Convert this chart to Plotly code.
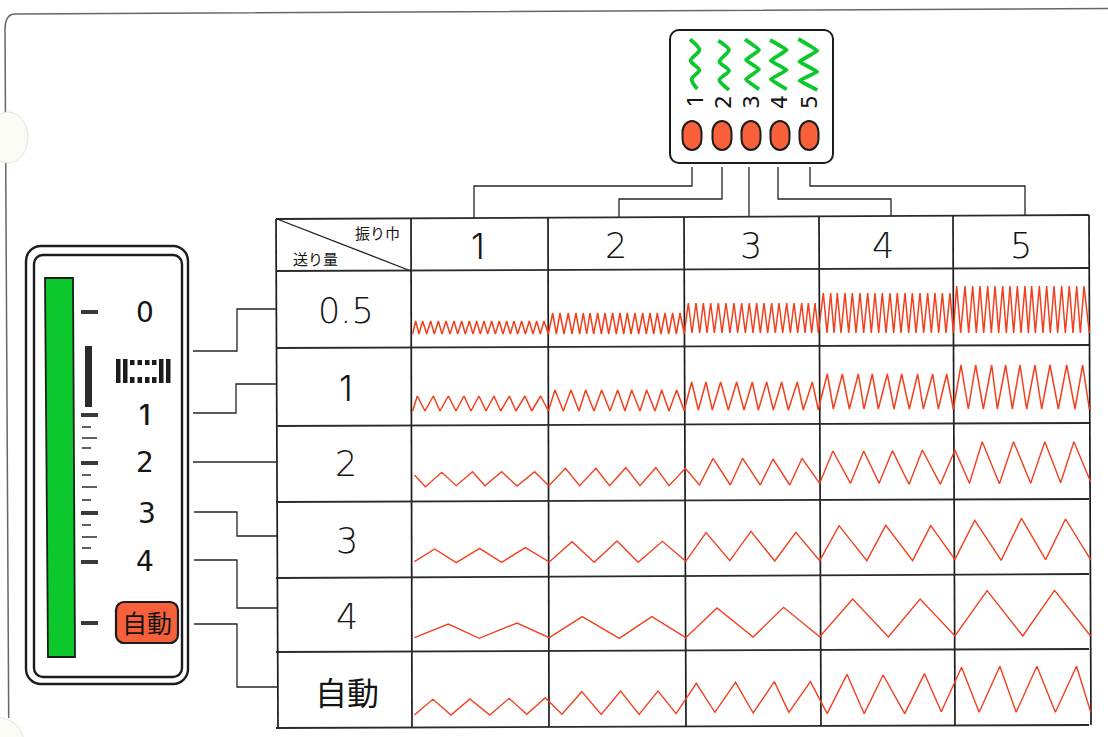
import plotly.graph_objects as go

# ---------- text ----------
width_labels = ["1", "2", "3", "4", "5"]
feed_labels = ["0.5", "1", "2", "3", "4", "自動"]
dial_labels = ["0", "1", "2", "3", "4"]
width_title = "振り巾"
feed_title = "送り量"
auto_label = "自動"

# ---------- table grid (pixels of the drawing) ----------
grid_x_top = [276, 411, 548, 684, 819, 953, 1089]
grid_x_bottom = [278, 412, 549, 686, 821, 955, 1091]
grid_y_left = [219, 271, 348, 426, 502, 578, 652, 728]
grid_y_right = [215, 268, 345, 423, 499, 574, 649, 725]

# ---------- stitch zigzags ----------
cell_origin = [270, 270, 680, 680, 680]
row05_x = [
    [428,437,447,458,470,482,493,505,516,528,540,552,563,575,586,598,609,620,631,642,653,665,676,688,699,710,721,732,743,755,766,778,789,800,811,822,835],
    [835,848,859,870,882,895,906,918,929,940,950,960,971,983,994,1005,1016,1028,1039,1050,1061,1072,1083,1095,1106,1118,1129,1140,1151,1162,1173,1185,1196,1208,1219,1230,1243],
    [13,25,36,48,59,70,81,92,103,115,126,138,150,162,173,185,196,208,219,230,241,252,263,275,286,297,308,320,331,342,353,365,375,385,395,405,415],
    [415,430,441,452,462,472,483,495,506,517,528,540,551,563,574,585,596,607,618,630,641,652,663,675,686,697,708,720,731,743,754,765,776,787,798,810,820],
    [820,830,842,855,866,878,889,900,911,923,934,945,956,968,979,990,1001,1012,1023,1035,1045,1055,1066,1078,1089,1100,1111,1122,1133,1145,1156,1168,1179,1190,1201,1212,1228],
]
row05_low = [334, 334, 333, 333, 333]
row05_high = [321, 313, 303, 293, 286]

row1_x = [
    [428,442,465,490,510,535,558,582,603,627,648,672,692,718,738,765,785,812,835],
    [835,855,880,903,927,947,972,995,1020,1043,1065,1085,1110,1130,1155,1175,1197,1220,1243],
    [13,35,55,78,97,122,145,170,192,217,235,260,280,305,325,352,370,397,415],
    [415,442,460,487,508,535,552,577,595,622,642,665,688,713,730,758,775,800,820],
    [820,843,865,887,910,935,952,977,997,1020,1040,1065,1085,1110,1135,1160,1185,1208,1228],
]
row1_low = [411, 411, 410, 409, 409]
row1_high = [396, 390, 382, 374, 365]

row2_x = [10,35,72,105,142,170,208,243,283,315,353,385,422,453,490,522,558,588,625,657,688,727,755,795,824,862,890,930,960,1000,1030,1065,1095,1133,1163,1204,1237,1270,1299,1338,1370,1409,1441,1477,1507,1545]
row2_y = [150,185,142,182,140,182,140,183,140,182,130,182,130,182,128,182,128,182,130,180,100,180,100,180,102,180,100,175,78,175,78,175,77,178,75,178,75,175,50,176,50,175,50,173,50,170]
row3_x = [10,56,105,158,208,262,316,368,418,470,518,573,626,672,726,774,828,876,930,974,1037,1080,1141,1182,1237,1282,1342,1388,1443,1488,1545]
row3_y = [410,372,413,370,412,368,411,350,412,348,412,349,409,323,407,319,408,322,407,302,407,301,407,302,403,286,406,280,404,282,404]
row4_x = [10,87,157,243,316,391,475,549,626,697,779,848,930,1005,1086,1158,1237,1310,1391,1463,1545]
row4_y = [638,597,640,594,638,575,640,575,638,549,636,547,635,522,636,522,633,497,633,496,633]
rowa_x = [10,52,93,136,181,225,265,307,345,390,434,478,520,563,604,650,692,739,779,827,860,909,947,992,1031,1074,1123,1168,1206,1252,1292,1339,1376,1423,1465,1513,1545]
rowa_y = [870,823,870,822,870,820,868,818,868,800,868,798,868,798,866,775,862,772,864,770,862,770,866,748,866,750,866,746,860,727,862,724,862,724,862,724,860]

# ---------- green samples on the width panel ----------
green_x = [
    [90,118,92,118,95,112],
    [175,207,178,207,178,207],
    [255,297,258,297,258,297],
    [330,380,332,380,332,380],
    [415,472,418,472,418,472],
]
green_y = [
    [58,90,122,150,178,207],
    [62,90,125,152,180,210],
    [58,90,120,148,178,208],
    [60,90,122,150,178,208],
    [57,92,125,155,182,210],
]
green_smoothing = [0.9, 0.7, 0.35, 0.25, 0.15]

# ---------- panel details ----------
oval_x = [692, 722, 751, 780, 809]
digit_x = [695, 723, 751, 779, 809]
dial_y = [312, 415, 462, 513, 561]
dial_x = [145, 145, 145, 147, 145]
tick_heavy_y = [312, 415, 463, 513, 562, 623]
tick_short_y = [427, 448, 475, 500, 525, 548]
tick_long_y = [438, 487, 537]
icon_bars = [116, 123, 159, 166]
icon_dots = [130, 137.5, 145, 152]

# ---------- connectors ----------
top_links = [
    [[692, 692, 474, 474], [167, 186, 186, 218]],
    [[722, 722, 619, 619], [167, 199, 199, 217]],
    [[749, 749], [167, 216]],
    [[778, 778, 891, 891], [167, 199, 199, 216]],
    [[810, 810, 1025, 1025], [167, 186, 186, 215]],
]
left_links = [
    [[193, 237, 237, 276], [351, 351, 309, 309]],
    [[193, 236, 236, 276], [413, 413, 384, 384]],
    [[193, 277], [462, 462]],
    [[194, 237, 237, 277], [512, 512, 536, 536]],
    [[194, 237, 237, 277], [560, 560, 608, 608]],
    [[194, 237, 237, 277], [624, 624, 687, 687]],
]

RED = "#f2401f"
GREEN = "#0cc82c"
ORANGE = "#f8603c"
INK = "#1c1c1c"
DIGIT_FONT = "DejaVu Sans"
LIGHT_FONT = "DejaVu Sans Light"
ONE_FONT = "Inter"
CJK_FONT = "Noto Sans CJK JP"


def rrect(x0, y0, x1, y1, rx, ry=None):
    ry = rx if ry is None else ry
    kx, ky = rx * 0.45, ry * 0.45
    return (f"M{x0+rx},{y0} L{x1-rx},{y0} C{x1-kx},{y0} {x1},{y0+ky} {x1},{y0+ry} L{x1},{y1-ry} "
            f"C{x1},{y1-ky} {x1-kx},{y1} {x1-rx},{y1} L{x0+rx},{y1} C{x0+kx},{y1} {x0},{y1-ky} {x0},{y1-ry} "
            f"L{x0},{y0+ry} C{x0},{y0+ky} {x0+kx},{y0} {x0+rx},{y0} Z")


def line(xs, ys, color=INK, w=1.5, **kw):
    return go.Scatter(x=xs, y=ys, mode="lines", line=dict(color=color, width=w, **kw),
                      hoverinfo="skip", showlegend=False)


fig = go.Figure()

# table grid
for a, b in zip(grid_x_top, grid_x_bottom):
    fig.add_trace(line([a, b], [grid_y_left[0] - (a - 276) * 4 / 813, grid_y_left[-1] - (b - 278) * 3 / 813], INK, 1.7))
for a, b in zip(grid_y_left, grid_y_right):
    fig.add_trace(line([276, 1089], [a, b], "#2a2a2a", 1.8))
fig.add_trace(line([277, 411], [219, 271], INK, 1.3))

# connectors
for xs, ys in top_links + left_links:
    fig.add_trace(line(xs, ys, "#262626", 1.3))

# stitches: the two dense rows
for xs_row, low, high in [(row05_x, row05_low, row05_high), (row1_x, row1_low, row1_high)]:
    for c, xs in enumerate(xs_row):
        px = [cell_origin[c] + v / 3 for v in xs]
        py = [low[c] if i % 2 == 0 else high[c] for i in range(len(xs))]
        fig.add_trace(line(px, py, RED, 1.5))

# stitches: the open rows
for xs, ys in [(row2_x, row2_y), (row3_x, row3_y), (row4_x, row4_y), (rowa_x, rowa_y)]:
    fig.add_trace(line([410 + v / 2.27 for v in xs], [425 + v / 3 for v in ys], RED, 1.4))

# green samples
for xs, ys, s in zip(green_x, green_y, green_smoothing):
    fig.add_trace(line([660 + v / 3 for v in xs], [20 + v / 3 for v in ys], GREEN, 3.8, shape="spline", smoothing=s))

shapes = []
# page frame, then the punched holes over it
shapes.append(dict(type="path", path="M8.7,718 L5,30 C5,19 9,14 15,14 L1108,8.5", line=dict(color="#666666", width=1.5)))
shapes.append(dict(type="circle", x0=-12, x1=28, y0=112, y1=163, fillcolor="#fbfbf6", line=dict(color="#e4e4da", width=1)))
shapes.append(dict(type="circle", x0=-26, x1=24, y0=718, y1=768, fillcolor="#fbfbf6", line=dict(color="#e4e4da", width=1)))
# width panel
shapes.append(dict(type="path", path=rrect(670, 30, 833, 163, 9), line=dict(color=INK, width=2)))
for x in oval_x:
    shapes.append(dict(type="path", path=rrect(x - 9.5, 121, x + 9.5, 150, 9.5, 11), fillcolor=ORANGE, line=dict(color=INK, width=2)))
# dial panel
shapes.append(dict(type="path", path=rrect(26, 246, 188, 684, 15), line=dict(color=INK, width=2.4)))
shapes.append(dict(type="path", path=rrect(34, 255, 182, 677, 9), line=dict(color=INK, width=2.4)))
shapes.append(dict(type="path", path="M45,278 L73,278 L75,657 L48,657 Z", fillcolor=GREEN, line=dict(color=INK, width=1.8)))
shapes.append(dict(type="rect", x0=85, x1=92, y0=346, y1=407, fillcolor="#2a2a2a", line=dict(width=0)))
for y in tick_heavy_y:
    shapes.append(dict(type="rect", x0=81, x1=98, y0=y - 2, y1=y + 2, fillcolor="#3a3a3a", line=dict(width=0)))
for y in tick_short_y:
    shapes.append(dict(type="line", x0=82, x1=91, y0=y, y1=y, line=dict(color="#2a2a2a", width=1.5)))
for y in tick_long_y:
    shapes.append(dict(type="line", x0=82, x1=97, y0=y, y1=y, line=dict(color="#2a2a2a", width=1.5)))
for x in icon_bars:
    shapes.append(dict(type="rect", x0=x, x1=x + 4.5, y0=359, y1=383, fillcolor="#1c1c1c", line=dict(width=0)))
for x in icon_dots:
    shapes.append(dict(type="rect", x0=x, x1=x + 4.5, y0=360, y1=365, fillcolor="#1c1c1c", line=dict(width=0)))
    shapes.append(dict(type="rect", x0=x, x1=x + 4.5, y0=377, y1=383, fillcolor="#1c1c1c", line=dict(width=0)))
shapes.append(dict(type="path", path=rrect(116, 602, 178, 643, 8), fillcolor=ORANGE, line=dict(color=INK, width=2.2)))

ann = []


def text(x, y, s, size, family=DIGIT_FONT, weight=400, angle=0, color="#141414"):
    ann.append(dict(x=x, y=y, text=s, showarrow=False, xanchor="center", yanchor="middle", textangle=angle,
                    font=dict(size=size, family=family, color=color, weight=weight)))


def digit(x, y, s, size, angle=0, family=DIGIT_FONT, one_weight=400):
    # the plain-stroke "1" of the reference has no foot serif
    if s == "1":
        text(x, y, s, size, ONE_FONT, one_weight, angle)
    else:
        text(x, y, s, size, family, 400, angle)


for x, s in zip([478, 616, 751, 883, 1021], width_labels):
    digit(x, 246, s, 35, family=LIGHT_FONT, one_weight=300)
for (x, y), s in zip([(346, 311), (346, 388), (346, 464), (347, 541), (347, 617)], feed_labels[:5]):
    digit(x, y, s, 35, family=LIGHT_FONT, one_weight=300)
text(347, 691, feed_labels[5], 32, CJK_FONT, 400)
text(377, 232, width_title, 15, CJK_FONT, 400)
text(315, 258, feed_title, 15, CJK_FONT, 400)
for x, s in zip(digit_x, width_labels):
    digit(x, 102, s, 22, angle=-90)
for x, y, s in zip(dial_x, dial_y, dial_labels):
    digit(x, y, s, 28, one_weight=500)
text(147, 622, auto_label, 25, CJK_FONT, 400)

fig.update_layout(
    width=1108, height=737, margin=dict(l=0, r=0, t=0, b=0),
    paper_bgcolor="white", plot_bgcolor="white", showlegend=False,
    xaxis=dict(range=[0, 1108], visible=False, fixedrange=True),
    yaxis=dict(range=[737, 0], visible=False, fixedrange=True),
    shapes=shapes, annotations=ann,
)

fig.write_html("out.html", post_script="document.body.style.margin='0';document.body.style.overflow='hidden';",
               config=dict(displayModeBar=False))
